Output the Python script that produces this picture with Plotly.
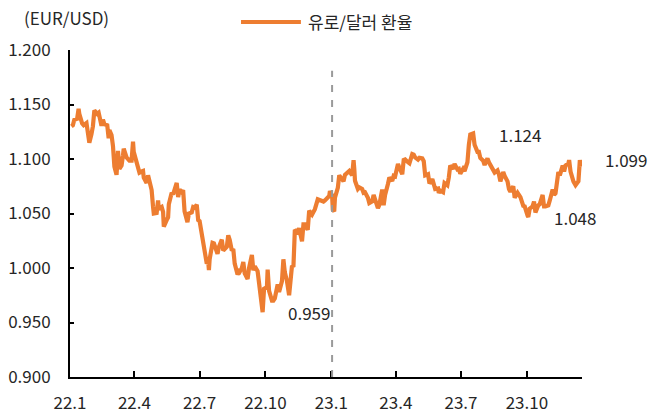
import plotly.graph_objects as go

# ---- data ----
dates_2022 = [
    "2022-01-03","2022-01-05","2022-01-07","2022-01-11","2022-01-13","2022-01-14","2022-01-18","2022-01-20",
    "2022-01-24","2022-01-26","2022-01-28","2022-01-31","2022-02-02","2022-02-04","2022-02-08","2022-02-10",
    "2022-02-14","2022-02-16","2022-02-18","2022-02-22","2022-02-24","2022-02-25","2022-02-28","2022-03-02",
    "2022-03-04","2022-03-07","2022-03-09","2022-03-11","2022-03-14","2022-03-16","2022-03-17","2022-03-21",
    "2022-03-23","2022-03-25","2022-03-28","2022-03-30","2022-03-31","2022-04-04","2022-04-06","2022-04-08",
    "2022-04-11","2022-04-13","2022-04-14","2022-04-18","2022-04-20","2022-04-22","2022-04-25","2022-04-27",
    "2022-04-28","2022-05-02","2022-05-04","2022-05-05","2022-05-09","2022-05-11","2022-05-12","2022-05-16",
    "2022-05-18","2022-05-19","2022-05-23","2022-05-25","2022-05-27","2022-05-30","2022-06-01","2022-06-03",
    "2022-06-06","2022-06-08","2022-06-10","2022-06-14","2022-06-16","2022-06-20","2022-06-22","2022-06-24",
    "2022-06-27","2022-06-29","2022-07-01","2022-07-05","2022-07-07","2022-07-11","2022-07-13","2022-07-14",
    "2022-07-15","2022-07-19","2022-07-21","2022-07-22","2022-07-26","2022-07-28","2022-08-01","2022-08-03",
    "2022-08-05","2022-08-08","2022-08-10","2022-08-12","2022-08-15","2022-08-17","2022-08-19","2022-08-23",
    "2022-08-25","2022-08-26","2022-08-29","2022-08-31","2022-09-02","2022-09-06","2022-09-08","2022-09-12",
    "2022-09-14","2022-09-16","2022-09-20","2022-09-22","2022-09-26","2022-09-27","2022-09-29","2022-10-03",
    "2022-10-04","2022-10-06","2022-10-10","2022-10-12","2022-10-14","2022-10-18","2022-10-20","2022-10-24",
    "2022-10-26","2022-10-28","2022-10-31","2022-11-02","2022-11-03","2022-11-07","2022-11-09","2022-11-11",
    "2022-11-15","2022-11-17","2022-11-21","2022-11-23","2022-11-25","2022-11-29","2022-12-01","2022-12-05",
    "2022-12-07","2022-12-09","2022-12-13","2022-12-15","2022-12-19","2022-12-21","2022-12-23","2022-12-27",
    "2022-12-29","2022-12-30",
]
values_2022 = [
    1.1300,1.1310,1.1360,1.1370,1.1460,1.1415,1.1325,1.1310,
    1.1330,1.1240,1.1150,1.1230,1.1300,1.1445,1.1415,1.1425,
    1.1305,1.1360,1.1320,1.1310,1.1190,1.1265,1.1220,1.1120,
    1.0930,1.0855,1.1075,1.0910,1.0940,1.1035,1.1095,1.1015,
    1.1000,1.0985,1.0985,1.1160,1.1065,1.0975,1.0900,1.0875,
    1.0885,1.0890,1.0830,1.0780,1.0850,1.0790,1.0715,1.0560,
    1.0500,1.0505,1.0620,1.0545,1.0560,1.0515,1.0380,1.0440,
    1.0465,1.0585,1.0690,1.0675,1.0730,1.0780,1.0650,1.0720,
    1.0695,1.0715,1.0520,1.0420,1.0500,1.0510,1.0560,1.0555,
    1.0580,1.0440,1.0430,1.0265,1.0160,1.0040,1.0060,0.9980,
    1.0080,1.0230,1.0225,1.0210,1.0130,1.0195,1.0260,1.0160,
    1.0180,1.0195,1.0300,1.0260,1.0160,1.0175,1.0040,0.9940,
    0.9970,0.9965,1.0000,1.0055,0.9950,0.9900,1.0000,1.0120,
    0.9980,1.0015,0.9970,0.9840,0.9640,0.9595,0.9810,0.9825,
    0.9985,0.9790,0.9700,0.9700,0.9720,0.9850,0.9780,0.9880,
    1.0080,0.9960,0.9880,0.9820,0.9750,1.0020,1.0010,1.0350,
    1.0330,1.0365,1.0245,1.0400,1.0400,1.0350,1.0525,1.0490,
    1.0510,1.0540,1.0630,1.0625,1.0610,1.0610,1.0620,1.0640,
    1.0660,1.0705,
]
dates_2023 = [
    "2023-01-02","2023-01-03","2023-01-05","2023-01-06","2023-01-10","2023-01-12","2023-01-16","2023-01-18",
    "2023-01-20","2023-01-24","2023-01-26","2023-01-30","2023-02-01","2023-02-02","2023-02-03","2023-02-07",
    "2023-02-09","2023-02-13","2023-02-15","2023-02-17","2023-02-21","2023-02-23","2023-02-27","2023-03-01",
    "2023-03-03","2023-03-07","2023-03-09","2023-03-13","2023-03-15","2023-03-17","2023-03-21","2023-03-23",
    "2023-03-27","2023-03-29","2023-03-31","2023-04-04","2023-04-06","2023-04-10","2023-04-12","2023-04-14",
    "2023-04-18","2023-04-20","2023-04-24","2023-04-26","2023-04-28","2023-05-02","2023-05-04","2023-05-08",
    "2023-05-10","2023-05-12","2023-05-16","2023-05-18","2023-05-22","2023-05-24","2023-05-26","2023-05-30",
    "2023-05-31","2023-06-02","2023-06-06","2023-06-08","2023-06-12","2023-06-14","2023-06-16","2023-06-20",
    "2023-06-22","2023-06-26","2023-06-28","2023-06-30","2023-07-04","2023-07-06","2023-07-10","2023-07-12",
    "2023-07-14","2023-07-18","2023-07-20","2023-07-24","2023-07-26","2023-07-28","2023-08-01","2023-08-03",
    "2023-08-07","2023-08-09","2023-08-11","2023-08-15","2023-08-17","2023-08-21","2023-08-23","2023-08-25",
    "2023-08-29","2023-08-31","2023-09-04","2023-09-06","2023-09-08","2023-09-12","2023-09-14","2023-09-18",
    "2023-09-20","2023-09-22","2023-09-26","2023-09-28","2023-10-02","2023-10-03","2023-10-05","2023-10-09",
    "2023-10-11","2023-10-13","2023-10-17","2023-10-19","2023-10-23","2023-10-25","2023-10-27","2023-10-31",
    "2023-11-02","2023-11-06","2023-11-08","2023-11-10","2023-11-14","2023-11-16","2023-11-20","2023-11-22",
    "2023-11-24","2023-11-28","2023-11-29","2023-12-01","2023-12-05","2023-12-07","2023-12-08","2023-12-12",
    "2023-12-14","2023-12-15",
]
values_2023 = [
    1.0665,1.0535,1.0520,1.0645,1.0735,1.0850,1.0820,1.0795,
    1.0855,1.0885,1.0890,1.0850,1.0990,1.0910,1.0800,1.0725,
    1.0740,1.0725,1.0690,1.0695,1.0645,1.0595,1.0610,1.0670,
    1.0635,1.0550,1.0580,1.0720,1.0575,1.0670,1.0770,1.0830,
    1.0800,1.0845,1.0840,1.0955,1.0920,1.0860,1.0990,1.0995,
    1.0970,1.0960,1.1045,1.1040,1.1015,1.0995,1.1010,1.1005,
    1.0980,1.0850,1.0860,1.0775,1.0815,1.0750,1.0725,1.0730,
    1.0690,1.0710,1.0695,1.0780,1.0760,1.0830,1.0940,1.0910,
    1.0955,1.0905,1.0910,1.0865,1.0910,1.0890,1.0970,1.1130,
    1.1225,1.1235,1.1130,1.1065,1.1065,1.1010,1.0985,1.0945,
    1.1005,1.0970,1.0950,1.0905,1.0875,1.0895,1.0860,1.0795,
    1.0880,1.0845,1.0795,1.0725,1.0700,1.0750,1.0645,1.0690,
    1.0665,1.0650,1.0570,1.0565,1.0480,1.0470,1.0545,1.0565,
    1.0610,1.0510,1.0575,1.0585,1.0670,1.0565,1.0565,1.0575,
    1.0620,1.0720,1.0670,1.0685,1.0880,1.0850,1.0940,1.0885,
    1.0940,1.0960,1.0990,1.0885,1.0795,1.0765,1.0760,1.0795,
    1.0990,1.0930,
]
dates = dates_2022 + dates_2023
values = values_2022 + values_2023

tick_vals = ["2022-01-01","2022-04-01","2022-07-01","2022-10-01",
             "2023-01-01","2023-04-01","2023-07-01","2023-10-01"]
tick_text = ["22.1","22.4","22.7","22.10","23.1","23.4","23.7","23.10"]
y_ticks = [0.900, 0.950, 1.000, 1.050, 1.100, 1.150, 1.200]

series_name = "유로/달러 환율"
unit_label = "(EUR/USD)"
marker_date = "2023-01-02"
callouts = [("0.959", 0.422, 0.196), ("1.124", 0.834, 0.743),
            ("1.048", 0.941, 0.489), ("1.099", 1.041, 0.664)]

FONT = "Noto Sans CJK KR"
TXT = "#262626"
ORANGE = "#ED7D31"
FS = 17

fig = go.Figure()
fig.add_trace(go.Scatter(x=dates, y=values, mode="lines", name=series_name,
                         line=dict(color=ORANGE, width=4.2), showlegend=False))

fig.update_layout(
    width=655, height=418,
    margin=dict(l=70, r=73, t=50, b=41),
    paper_bgcolor="white", plot_bgcolor="white",
    font=dict(family=FONT, size=FS, color=TXT),
    xaxis=dict(type="date", range=["2022-01-01", "2023-12-17"],
               tickvals=tick_vals, ticktext=tick_text,
               showgrid=False, zeroline=False, automargin=False,
               showline=True, linecolor="black", linewidth=2,
               ticks="inside", ticklen=6, tickcolor="black", tickwidth=2,
               ticklabelstandoff=10,
               tickfont=dict(family=FONT, size=FS, color=TXT)),
    yaxis=dict(range=[0.9, 1.2], tickvals=y_ticks, tickformat=".3f",
               showgrid=False, zeroline=False, automargin=False,
               showline=True, linecolor="black", linewidth=2,
               ticks="inside", ticklen=4, tickcolor="black", tickwidth=2,
               ticklabelstandoff=14,
               tickfont=dict(family=FONT, size=FS, color=TXT)),
)

# dashed marker at 23.1
fig.add_shape(type="line", xref="x", yref="y", x0=marker_date, x1=marker_date,
              y0=0.9, y1=1.181, line=dict(color="#9a9a9a", width=2, dash="7px,8px"))

# custom legend
fig.add_shape(type="line", xref="paper", yref="paper", x0=0.334, x1=0.451,
              y0=1.086, y1=1.086, line=dict(color=ORANGE, width=4))
fig.add_annotation(xref="paper", yref="paper", x=0.460, y=1.086, text=series_name,
                   showarrow=False, xanchor="left", yanchor="middle",
                   font=dict(family=FONT, size=FS, color=TXT))
fig.add_annotation(xref="paper", yref="paper", x=-0.094, y=1.098, text=unit_label,
                   showarrow=False, xanchor="left", yanchor="middle",
                   font=dict(family=FONT, size=FS, color=TXT))
for txt, px, py in callouts:
    fig.add_annotation(xref="paper", yref="paper", x=px, y=py, text=txt,
                       showarrow=False, xanchor="left", yanchor="middle",
                       font=dict(family=FONT, size=FS, color=TXT))

fig.write_html("out.html")
